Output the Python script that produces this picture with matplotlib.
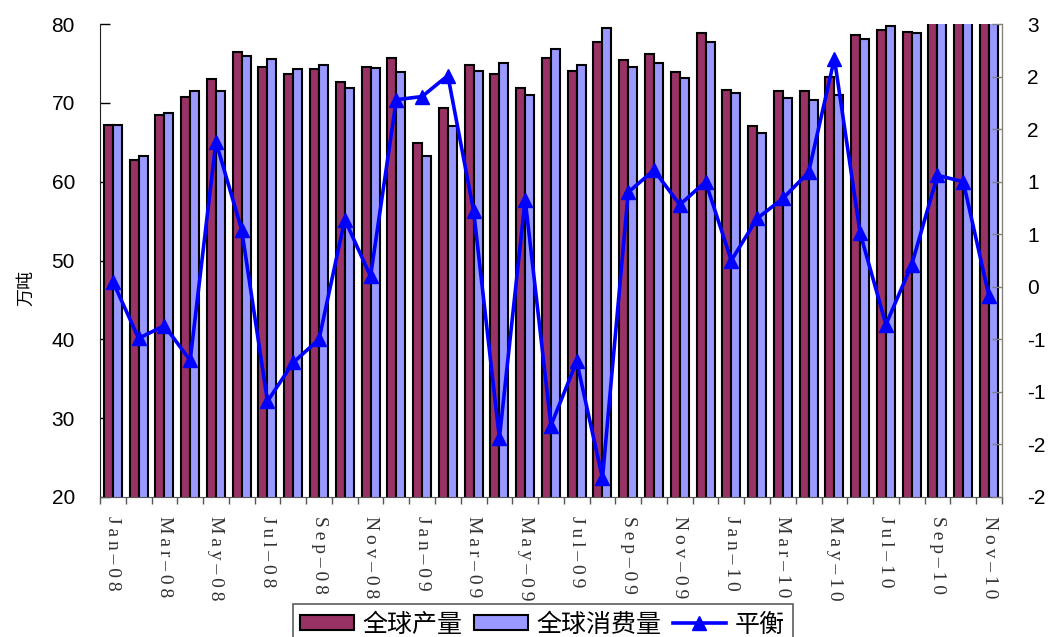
import numpy as np
import matplotlib
matplotlib.use("Agg")
import matplotlib.pyplot as plt
from matplotlib.ticker import FuncFormatter, FixedLocator

plt.rcParams['font.family'] = ['Liberation Sans', 'Noto Sans CJK SC', 'DejaVu Sans']

months = ["Jan-08", "Feb-08", "Mar-08", "Apr-08", "May-08", "Jun-08", "Jul-08", "Aug-08",
          "Sep-08", "Oct-08", "Nov-08", "Dec-08", "Jan-09", "Feb-09", "Mar-09", "Apr-09",
          "May-09", "Jun-09", "Jul-09", "Aug-09", "Sep-09", "Oct-09", "Nov-09", "Dec-09",
          "Jan-10", "Feb-10", "Mar-10", "Apr-10", "May-10", "Jun-10", "Jul-10", "Aug-10",
          "Sep-10", "Oct-10", "Nov-10"]

production = [67.2, 62.7, 68.5, 70.8, 73.0, 76.4, 74.5, 73.7, 74.3, 72.6, 74.5, 75.7,
              64.9, 69.3, 74.8, 73.7, 71.9, 75.7, 74.1, 77.7, 75.4, 76.2, 73.9, 78.8,
              71.6, 67.0, 71.5, 71.5, 73.3, 78.6, 79.2, 79.0, 82.0, 83.0, 82.0]

consumption = [67.2, 63.2, 68.7, 71.5, 71.5, 75.9, 75.6, 74.3, 74.8, 71.9, 74.4, 73.9,
               63.2, 67.1, 74.1, 75.1, 71.0, 76.8, 74.8, 79.5, 74.5, 75.1, 73.2, 77.7,
               71.2, 66.2, 70.6, 70.4, 71.0, 78.1, 79.8, 78.9, 81.0, 82.0, 82.0]

balance = [0.05, -0.49, -0.37, -0.70, 1.38, 0.54, -1.09, -0.72, -0.50, 0.64, 0.10, 1.78,
           1.81, 2.01, 0.72, -1.44, 0.83, -1.32, -0.71, -1.82, 0.90, 1.11, 0.78, 1.00,
           0.25, 0.65, 0.84, 1.09, 2.17, 0.51, -0.36, 0.21, 1.06, 1.00, -0.09]

series_names = ["全球产量", "全球消费量", "平衡"]

fig = plt.figure(figsize=(10.48, 6.37), dpi=100)
ax = fig.add_axes([0.0954, 0.2198, 0.8606, 0.7425])
ax2 = ax.twinx()

x = np.arange(len(months))
w = 0.35
b1 = ax.bar(x - w / 2, production, width=w, color="#993366", edgecolor="black",
            linewidth=1.5, label=series_names[0], zorder=2)
b2 = ax.bar(x + w / 2, consumption, width=w, color="#9999FF", edgecolor="black",
            linewidth=1.5, label=series_names[1], zorder=2)

ln, = ax2.plot(x, balance, color="#0000FF", linewidth=2.6, marker="^", markersize=10,
               label=series_names[2], zorder=5)

ax.set_xlim(-0.5, len(months) - 0.5)
ax.set_ylim(20, 80)
ax.set_yticks(np.arange(20, 81, 10))
ax2.set_ylim(-2, 2.5)
ax2.set_yticks(np.arange(-2, 2.51, 0.5))


def excel_round(v, pos):
    r = int(np.floor(abs(v) + 0.5 + 1e-9))
    if v < 0 and r != 0:
        return "-%d" % r
    return "%d" % r


ax2.yaxis.set_major_formatter(FuncFormatter(excel_round))

# x ticks: boundaries as major ticks, labels on minor ticks every 2 categories
ax.xaxis.set_major_locator(FixedLocator(np.arange(-0.5, len(months), 1.0)))
ax.xaxis.set_major_formatter(FuncFormatter(lambda v, p: ""))
ax.set_xticks(x[::2], minor=True)
spaced = ["\u2009".join(m.replace("-", "\u2013")) for m in months[::2]]
ax.set_xticklabels(spaced, minor=True, rotation=270, fontsize=14,
                   family=["Liberation Serif", "DejaVu Serif"], color="#333333")
ax.tick_params(axis="x", which="major", direction="out", length=5, width=1, color="#555555")
ax.tick_params(axis="x", which="minor", length=0, pad=14)

ax.tick_params(axis="y", direction="in", length=7, width=1, labelsize=15, pad=18)
ax2.tick_params(axis="y", direction="in", length=7, width=1, labelsize=15, pad=18,
                color="#808080")

for a in (ax, ax2):
    a.spines["top"].set_visible(False)
ax.spines["left"].set_color("#222222")
ax.spines["bottom"].set_color("#555555")
ax2.spines["right"].set_color("#808080")
ax2.spines["left"].set_visible(False)
ax2.spines["bottom"].set_visible(False)

ax.set_ylabel("万吨", family=["Noto Sans CJK SC", "DejaVu Sans"], fontsize=13)
ax.yaxis.set_label_coords(-0.072, (497 - 288) / 473)

leg = fig.legend([b1, b2, ln], series_names, loc="upper center",
                 bbox_to_anchor=(0.5177, 1 - 604 / 637), ncol=3, frameon=True, fancybox=False,
                 prop={"family": ["Noto Sans CJK SC", "DejaVu Sans"], "size": 18},
                 handlelength=2.15, handleheight=0.55, handletextpad=0.35, columnspacing=0.45,
                 borderpad=0.3, borderaxespad=0.0, edgecolor="#333333")
leg.get_frame().set_linewidth(1.2)

fig.savefig("out.png", dpi=100)
